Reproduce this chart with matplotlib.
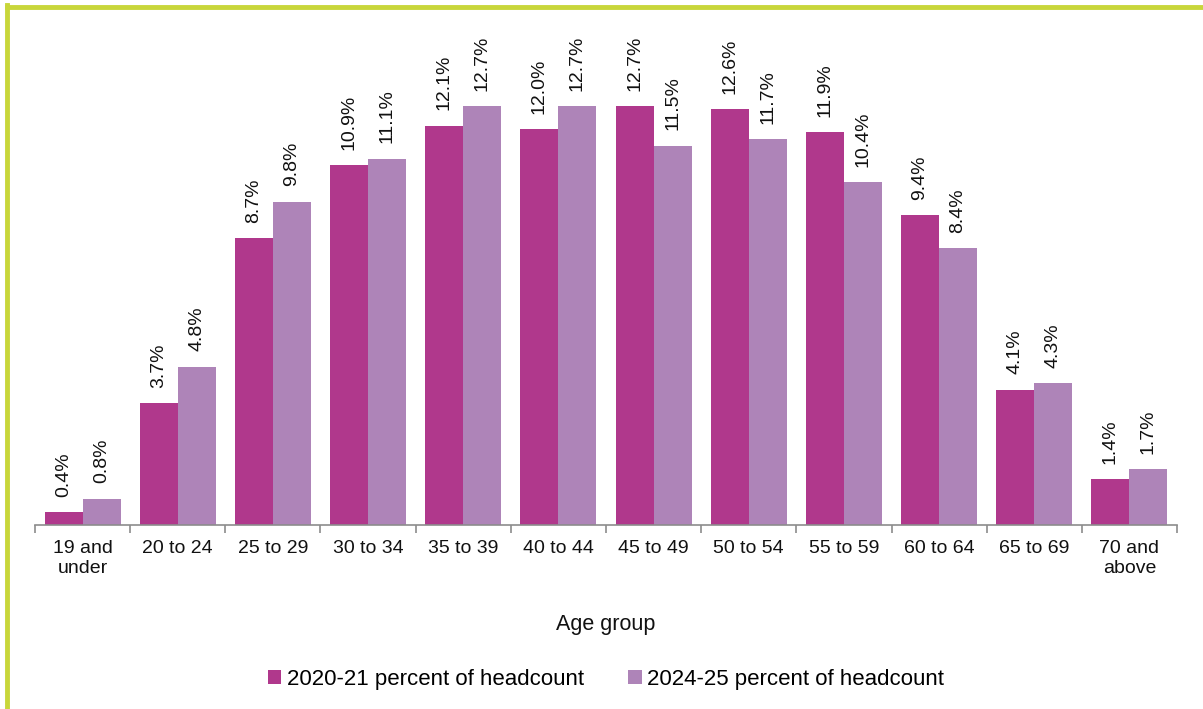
import matplotlib.pyplot as plt
from matplotlib.lines import Line2D
import numpy as np

plt.rcParams['font.family'] = ['Liberation Sans', 'DejaVu Sans']

# Data
age_groups = ['19 and\nunder', '20 to 24', '25 to 29', '30 to 34', '35 to 39', '40 to 44',
              '45 to 49', '50 to 54', '55 to 59', '60 to 64', '65 to 69', '70 and\nabove']
pct_2020 = [0.4, 3.7, 8.7, 10.9, 12.1, 12.0, 12.7, 12.6, 11.9, 9.4, 4.1, 1.4]
pct_2024 = [0.8, 4.8, 9.8, 11.1, 12.7, 12.7, 11.5, 11.7, 10.4, 8.4, 4.3, 1.7]
series_names = ['2020-21 percent of headcount', '2024-25 percent of headcount']

c1 = '#B0388C'
c2 = '#AE84B8'

W, H = 1203, 709
fig = plt.figure(figsize=(W / 100, H / 100), dpi=100)
ax = fig.add_axes([35 / W, 1 - 525 / H, (1177 - 35) / W, (525 - 30) / H])

x = np.arange(len(age_groups))
w = 0.4
b1 = ax.bar(x - w / 2, pct_2020, w, color=c1, label=series_names[0])
b2 = ax.bar(x + w / 2, pct_2024, w, color=c2, label=series_names[1])

for bars, vals in [(b1, pct_2020), (b2, pct_2024)]:
    for rect, v in zip(bars, vals):
        ax.annotate(f'{v:.1f}%', (rect.get_x() + rect.get_width() / 2, rect.get_height()),
                    xytext=(0, 11), textcoords='offset points', rotation=90,
                    ha='center', va='bottom', fontsize=14, color='#111111')

ax.set_xlim(-0.5, len(age_groups) - 0.5)
ax.set_ylim(0, 15)
ax.set_yticks([])
for s in ['top', 'right', 'left']:
    ax.spines[s].set_visible(False)
ax.spines['bottom'].set_color('#8C8C8C')
ax.spines['bottom'].set_linewidth(1.2)

ax.set_xticks(np.arange(len(age_groups) + 1) - 0.5, minor=False)
ax.set_xticklabels([])
ax.tick_params(axis='x', which='major', length=6, color='#8C8C8C', width=1.2, direction='out')
ax.set_xticks(x, minor=True)
ax.set_xticklabels(age_groups, minor=True, fontsize=14, color='#111111', linespacing=1.2)
ax.tick_params(axis='x', which='minor', length=0, pad=11)

ax.set_xlabel('Age group', fontsize=15.5, color='#111111', labelpad=27)

ax.legend(loc='center', bbox_to_anchor=(606 / W, 1 - 679 / H), bbox_transform=fig.transFigure,
          ncol=2, frameon=False, fontsize=16, handlelength=0.6, handleheight=0.6,
          handletextpad=0.25, columnspacing=2.0)

# green frame on top and left edges
green = '#C8D63A'
fig.add_artist(Line2D([7 / W, 1], [1 - 6.5 / H, 1 - 6.5 / H], color=green, lw=3.5,
                      transform=fig.transFigure))
fig.add_artist(Line2D([7 / W, 7 / W], [0, 1 - 5 / H], color=green, lw=3.5,
                      transform=fig.transFigure))

fig.savefig('out.png', dpi=100)
